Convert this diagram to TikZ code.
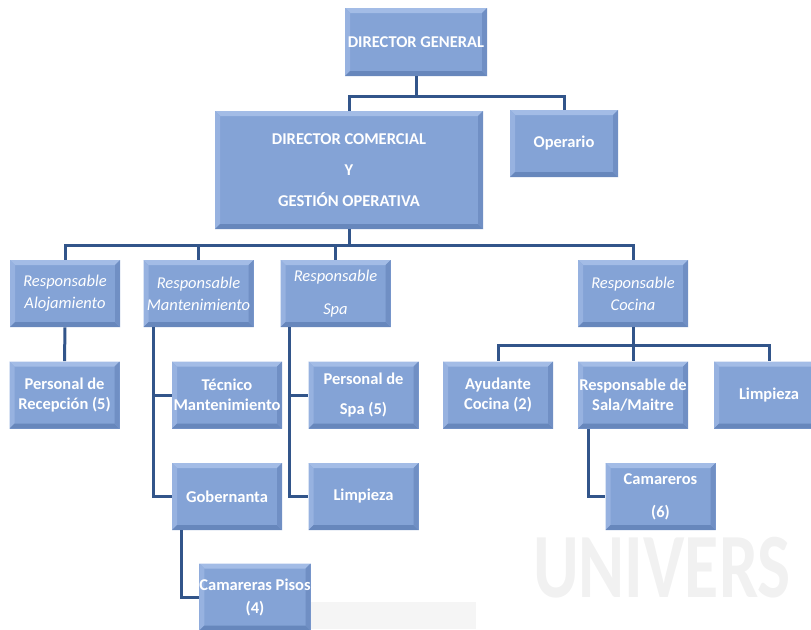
\documentclass[tikz,border=0pt]{standalone}
\usepackage{fontspec}
\setmainfont{Carlito}
\definecolor{boxfill}{HTML}{84A3D6}
\definecolor{boxlight}{HTML}{A3BCE6}
\definecolor{boxdark}{HTML}{6787BC}
\definecolor{linkcol}{HTML}{32558A}
\definecolor{wmark}{HTML}{F1F1F1}
\tikzset{every picture/.style={line width=0.75pt}}
\tikzset{
  box/.style={fill=boxfill, text=white, font=\fontsize{16.5}{20}\selectfont\bfseries,
    align=center, inner sep=0pt, minimum width=110pt, minimum height=67pt,
    path picture={
      \coordinate (nw) at (path picture bounding box.north west);
      \coordinate (ne) at (path picture bounding box.north east);
      \coordinate (sw) at (path picture bounding box.south west);
      \coordinate (se) at (path picture bounding box.south east);
      \fill[boxlight] (nw) -- (ne) -- ([shift={(-5pt,-5pt)}]ne) -- ([shift={(5pt,-5pt)}]nw) -- cycle;
      \fill[boxlight!60!boxfill] (nw) -- (sw) -- ([shift={(5pt,5pt)}]sw) -- ([shift={(5pt,-5pt)}]nw) -- cycle;
      \fill[boxdark] (sw) -- (se) -- ([shift={(-5pt,5pt)}]se) -- ([shift={(5pt,5pt)}]sw) -- cycle;
      \fill[boxdark!70!boxfill] (ne) -- (se) -- ([shift={(-5pt,5pt)}]se) -- ([shift={(-5pt,-5pt)}]ne) -- cycle;
    }},
  resp/.style={box, font=\fontsize{16.5}{20}\selectfont\itshape},
  link/.style={draw=linkcol, line width=3pt}
}

\begin{document}
\begin{tikzpicture}[x=1pt,y=-1pt]
  \useasboundingbox (0,0) rectangle (811,629);
  \clip (0,0) rectangle (811,629);

  \fill[wmark!70!white] (310,602) rectangle (476,629);
  \node[text=wmark, font=\fontsize{92}{92}\selectfont\bfseries, xscale=0.76, transform shape] (univers) at (662,568) {UNIVERS};

  \node[box, minimum width=142pt, minimum height=68pt] (dg) at (416,42) {DIRECTOR GENERAL};
  \node[box, minimum width=268pt, minimum height=118pt] (dcgo) at (349,170) {DIRECTOR COMERCIAL\\[11pt] Y\\[11pt] GESTIÓN OPERATIVA};
  \node[box, minimum width=108pt] (op) at (564,143.5) {Operario};

  \node[resp] (ralo) at (65,293.5) {Responsable\\[2pt] Alojamiento};
  \node[resp] (rman) at (198.5,293.5) {Responsable\\[2pt] Mantenimiento};
  \node[resp] (rspa) at (335.5,293.5) {Responsable\\[13pt] Spa};
  \node[resp] (rcoc) at (633,293.5) {Responsable\\[2pt] Cocina};

  \node[box] (prec) at (64.5,395) {Personal de\\ Recepción (5)};
  \node[box] (tec) at (227,395) {Técnico\\ Mantenimiento};
  \node[box] (gob) at (227,496.5) {Gobernanta};
  \node[box] (cam) at (255,597) {Camareras Pisos\\[3pt] (4)};
  \node[box] (pspa) at (363.5,395) {Personal de\\[10pt] Spa (5)};
  \node[box] (lspa) at (363.5,496.5) {Limpieza};
  \node[box] (ayu) at (498,395) {Ayudante\\ Cocina (2)};
  \node[box] (rsala) at (633,395) {Responsable de\\ Sala/Maitre};
  \node[box] (lcoc) at (769,395) {Limpieza};
  \node[box] (cmr) at (660.5,496.5) {Camareros\\[13pt] (6)};

  \draw[link] (dg.south) -- ++(0,20) -| (dcgo.north);
  \draw[link] (dg.south) -- ++(0,20) -| (op.north);

  \draw[link] (dcgo.south) -- ++(0,16) -| (ralo.north);
  \draw[link] (dcgo.south) -- ++(0,16) -| (rman.north);
  \draw[link] (dcgo.south) -- ++(0,16) -| (rspa.north);
  \draw[link] (dcgo.south) -- ++(0,16) -| (rcoc.north);

  \draw[link] (ralo.south) -- (prec.north);
  \draw[link] ([xshift=10pt]rman.south west) |- (tec.west);
  \draw[link] ([xshift=10pt]rman.south west) |- (gob.west);
  \draw[link] ([xshift=10pt]gob.south west) |- (cam.west);
  \draw[link] ([xshift=9pt]rspa.south west) |- (pspa.west);
  \draw[link] ([xshift=9pt]rspa.south west) |- (lspa.west);

  \draw[link] (rcoc.south) -- ++(0,18) -| (ayu.north);
  \draw[link] (rcoc.south) -- (rsala.north);
  \draw[link] (rcoc.south) -- ++(0,18) -| (lcoc.north);
  \draw[link] ([xshift=11pt]rsala.south west) |- (cmr.west);
\end{tikzpicture}
\end{document}
